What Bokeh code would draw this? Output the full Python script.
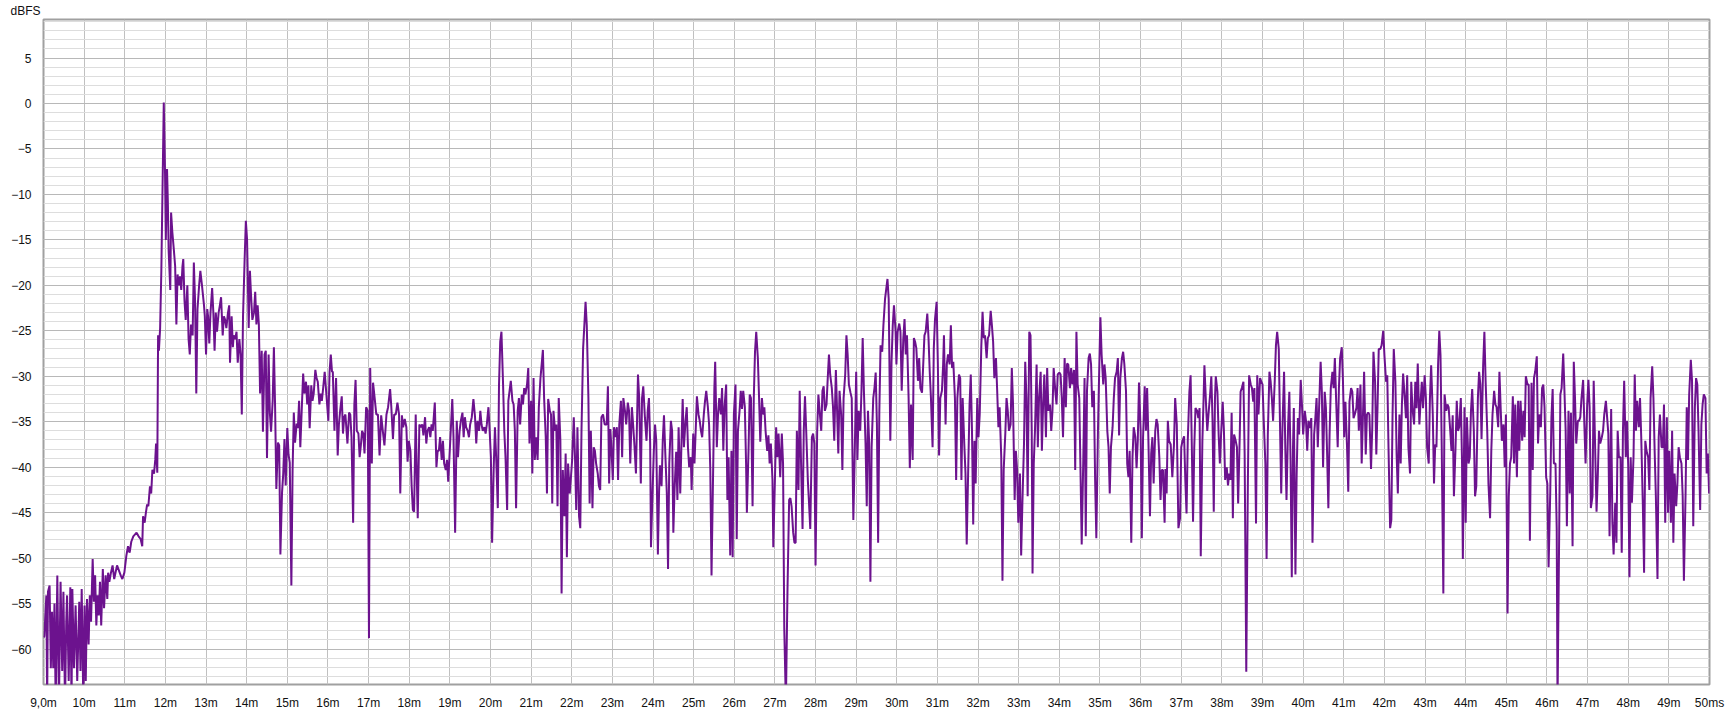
from bokeh.plotting import figure
from bokeh.models import FixedTicker, Range1d, ColumnDataSource
from bokeh.embed import file_html
from bokeh.resources import INLINE

# ---- data (time in ms, level in dBFS) ----
onset_t = [9.00, 9.02, 9.07, 9.09, 9.11, 9.15, 9.18, 9.21, 9.24, 9.27, 9.30, 9.34, 9.38, 9.42, 9.46, 9.49,
           9.53, 9.56, 9.58, 9.62, 9.66, 9.69, 9.71, 9.75, 9.79, 9.83, 9.88, 9.91, 9.94, 9.98, 10.01, 10.04,
           10.07, 10.11, 10.14, 10.17, 10.21, 10.24, 10.27, 10.30, 10.33, 10.36, 10.39, 10.42, 10.46, 10.49,
           10.53, 10.57, 10.59, 10.62, 10.66, 10.70, 10.74, 10.81, 10.90, 10.94, 10.99, 11.04, 11.08, 11.12,
           11.16, 11.21, 11.29, 11.34, 11.39, 11.43, 11.45, 11.49, 11.52, 11.55, 11.58, 11.62, 11.65, 11.68,
           11.72, 11.75, 11.77, 11.80, 11.82, 11.84, 11.87, 11.90, 11.93, 11.96]
onset_db = [-58.7, -58.6, -54.1, -66, -53.7, -53.0, -62.1, -55.9, -62.1, -55.0, -66, -51.9, -66, -52.6, -62.4, -53.7,
            -66, -57.0, -54.1, -63.5, -53.2, -66, -53.4, -62.1, -55.2, -63.5, -54.8, -62.4, -53.4, -66, -55.2, -63.5,
            -54.5, -59.5, -54.1, -57.0, -50.1, -54.8, -51.9, -57.4, -54.1, -56.3, -52.6, -57.4, -51.2, -55.5,
            -51.9, -54.5, -51.6, -52.6, -51.6, -50.8, -52.3, -50.8, -51.9, -52.3, -51.6, -49.7, -48.7, -49.4,
            -48.2, -47.6, -47.2, -47.6, -47.9, -48.7, -45.4, -46.1, -45.0, -44.1, -44.3, -42.1, -42.9, -40.3,
            -40.7, -39.2, -37.4, -40.6, -25.5, -27.2, -24.7, -18.4, -9.1, 0.1]

direct_t = [11.99, 12.01, 12.04, 12.06, 12.08, 12.12, 12.14, 12.17, 12.21, 12.24, 12.27, 12.30, 12.33, 12.36, 12.39,
            12.42, 12.44, 12.47, 12.50, 12.54, 12.57, 12.60, 12.63, 12.67, 12.70, 12.73, 12.76, 12.79, 12.83, 12.86,
            12.90, 12.95, 12.97, 13.00, 13.03, 13.05, 13.08, 13.11, 13.15, 13.18, 13.21, 13.24, 13.27, 13.31, 13.34,
            13.37, 13.41, 13.44, 13.47, 13.50, 13.54, 13.57, 13.59, 13.63, 13.66, 13.68, 13.72, 13.75, 13.78, 13.82,
            13.85, 13.88, 13.91, 13.95, 13.98, 14.01, 14.05, 14.08, 14.11, 14.14, 14.18, 14.21, 14.24, 14.27, 14.30,
            14.33, 14.37, 14.40, 14.44, 14.47, 14.50, 14.54, 14.57, 14.60, 14.64, 14.67, 14.70, 14.73, 14.77, 14.80,
            14.83, 14.87, 14.90, 14.93, 14.96, 15.00, 15.03, 15.06, 15.10, 15.13, 15.16, 15.19, 15.23, 15.26, 15.29,
            15.32, 15.36, 15.39, 15.42, 15.46, 15.49, 15.52, 15.55, 15.59, 15.62, 15.65, 15.69, 15.72, 15.75, 15.79,
            15.82, 15.85, 15.88, 15.92]
direct_db = [-7.4, -15.0, -7.2, -10.8, -16.2, -20.5, -12.0, -14.1, -16.2, -17.9, -24.3, -18.8, -20.0, -19.0, -20.5,
             -17.9, -17.1, -21.7, -23.8, -20.0, -25.9, -27.6, -24.3, -25.5, -17.5, -21.7, -31.9, -22.6, -20.0, -18.4,
             -20.0, -22.2, -23.4, -27.6, -22.6, -23.4, -26.4, -23.0, -20.3, -23.0, -27.2, -23.0, -25.1, -23.0, -22.2,
             -21.3, -25.5, -23.4, -23.8, -24.7, -23.0, -22.2, -28.5, -23.4, -26.8, -25.5, -25.9, -25.1, -28.5, -25.9,
             -27.6, -34.2, -23.4, -17.1, -12.9, -15.0, -24.7, -18.4, -21.3, -23.8, -23.0, -20.7, -24.3, -22.2, -24.3,
             -31.9, -27.2, -36.1, -27.6, -27.2, -39.0, -27.6, -34.0, -36.1, -32.7, -26.8, -33.5, -42.4, -37.3, -37.6,
             -49.6, -42.8, -40.7, -36.9, -42.0, -35.7, -38.6, -39.5, -53.0, -40.3, -34.0, -37.3, -35.2, -35.7, -32.7,
             -37.8, -33.1, -29.7, -31.9, -30.6, -33.1, -31.0, -35.7, -31.0, -32.7, -31.9, -29.3, -30.2, -30.6, -33.1,
             -31.9, -32.7, -31.4, -29.5]

early_t = [16.01, 16.04, 16.07, 16.10, 16.12, 16.16, 16.20, 16.24, 16.27, 16.30, 16.34, 16.37, 16.40, 16.43, 16.48,
           16.52, 16.55, 16.58, 16.62, 16.65, 16.68, 16.71, 16.75, 16.78, 16.81, 16.84, 16.87, 16.90, 16.94, 16.98,
           17.01, 17.04, 17.08, 17.11, 17.15, 17.19, 17.23, 17.27, 17.31, 17.35, 17.39, 17.44, 17.48, 17.53, 17.56,
           17.60, 17.63, 17.67, 17.71, 17.75, 17.78, 17.82, 17.85, 17.89, 17.93, 17.96, 17.99, 18.03, 18.06, 18.09,
           18.12, 18.16, 18.19, 18.21, 18.25, 18.29, 18.32, 18.35, 18.39, 18.42, 18.45, 18.49, 18.52, 18.55, 18.58,
           18.63, 18.67, 18.70, 18.73, 18.76, 18.80, 18.83, 18.86, 18.90, 18.93, 18.96, 18.99, 19.03, 19.06, 19.09,
           19.13, 19.17, 19.20, 19.24, 19.27, 19.31, 19.34, 19.37, 19.40, 19.44, 19.47, 19.50, 19.54, 19.58, 19.62,
           19.65, 19.68, 19.72, 19.75, 19.78, 19.81, 19.85, 19.88, 19.91, 19.95, 19.98, 20.01, 20.04, 20.08, 20.11,
           20.14, 20.18, 20.21, 20.24, 20.27, 20.31, 20.34, 20.37, 20.41, 20.44, 20.47, 20.50, 20.54, 20.57, 20.60,
           20.63, 20.67, 20.70, 20.73, 20.77, 20.80, 20.83, 20.86, 20.90, 20.93, 20.96, 21.00, 21.03, 21.06, 21.09,
           21.13, 21.16, 21.19, 21.23, 21.26, 21.29, 21.32, 21.36, 21.39, 21.42, 21.46, 21.49, 21.52, 21.55, 21.59,
           21.62, 21.65, 21.68, 21.72, 21.75, 21.78, 21.82, 21.85, 21.88, 21.91, 21.95, 21.98, 22.01, 22.05, 22.08,
           22.11, 22.14, 22.18, 22.21, 22.24, 22.28, 22.31, 22.34, 22.37, 22.41, 22.44, 22.47, 22.51, 22.54, 22.57,
           22.60, 22.64, 22.67, 22.70, 22.73, 22.77, 22.81]
early_db = [-34.9, -29.5, -27.6, -29.5, -29.5, -36.0, -30.2, -38.7, -35.3, -33.8, -32.2, -36.3, -34.5, -34.2, -37.4,
            -34.0, -34.2, -36.7, -46.1, -33.1, -30.4, -36.0, -36.3, -38.9, -37.6, -36.0, -36.3, -38.5, -33.4, -33.8,
            -58.8, -29.1, -39.6, -30.7, -32.4, -34.2, -34.2, -38.7, -34.3, -36.0, -37.6, -34.2, -33.4, -31.4, -33.4,
            -36.9, -34.2, -34.2, -32.9, -34.2, -42.9, -34.3, -35.6, -34.7, -35.6, -39.4, -37.1, -38.2, -42.1, -44.7,
            -44.9, -34.2, -41.8, -45.6, -35.3, -35.6, -35.3, -36.5, -34.5, -37.4, -36.0, -35.6, -36.7, -35.3, -36.0,
            -32.9, -40.0, -38.2, -38.2, -36.7, -39.2, -37.1, -39.6, -40.3, -39.2, -41.6, -38.9, -35.3, -32.5, -36.7,
            -47.2, -34.9, -38.9, -36.0, -34.9, -34.0, -36.7, -34.5, -35.6, -36.0, -36.7, -35.3, -34.5, -32.5, -34.5,
            -37.4, -34.9, -36.0, -33.8, -35.3, -36.0, -35.6, -36.3, -35.3, -33.4, -36.0, -38.9, -48.3, -40.0, -35.6,
            -38.9, -44.5, -30.9, -26.2, -25.1, -30.9, -36.0, -38.9, -44.7, -32.7, -31.6, -30.5, -32.7, -33.1, -36.0,
            -44.5, -33.8, -32.4, -35.3, -32.0, -33.1, -31.3, -32.0, -30.9, -29.1, -37.4, -32.7, -40.7, -30.2, -39.2,
            -36.7, -39.2, -33.4, -30.2, -28.7, -27.1, -32.4, -36.7, -42.9, -32.5, -33.8, -34.2, -44.0, -33.8, -36.0,
            -35.3, -44.3, -32.4, -37.1, -53.9, -40.3, -45.4, -38.5, -49.9, -39.6, -42.9, -41.1, -39.2, -34.5, -38.9,
            -44.7, -35.6, -45.4, -46.7, -36.0, -26.9, -24.4, -21.8, -24.4, -32.4, -44.0, -36.0, -44.5, -37.8, -38.2,
            -39.6, -40.7, -42.1, -42.5, -34.5, -34.2, -35.3]

mid_t = [22.86, 22.89, 22.92, 22.95, 22.98, 23.01, 23.04, 23.07, 23.11, 23.14, 23.17, 23.21, 23.24, 23.27, 23.31,
         23.34, 23.38, 23.41, 23.44, 23.48, 23.51, 23.54, 23.58, 23.63, 23.66, 23.70, 23.73, 23.76, 23.80, 23.84,
         23.87, 23.90, 23.93, 23.95, 23.98, 24.02, 24.05, 24.08, 24.12, 24.15, 24.17, 24.21, 24.24, 24.27, 24.30,
         24.34, 24.37, 24.40, 24.44, 24.47, 24.50, 24.53, 24.57, 24.60, 24.63, 24.67, 24.70, 24.73, 24.76, 24.80,
         24.83, 24.86, 24.89, 24.93, 24.95, 24.99, 25.02, 25.05, 25.08, 25.12, 25.15, 25.18, 25.21, 25.25, 25.28,
         25.31, 25.35, 25.38, 25.41, 25.44, 25.48, 25.51, 25.53, 25.57, 25.60, 25.63, 25.67, 25.70, 25.73, 25.76,
         25.80, 25.83, 25.86, 25.90, 25.93, 25.96, 25.99, 26.03, 26.06, 26.09, 26.13, 26.16, 26.19, 26.22, 26.26,
         26.29, 26.31, 26.35, 26.38, 26.41, 26.45, 26.48, 26.51, 26.54, 26.58, 26.61, 26.64, 26.68, 26.71, 26.74,
         26.77, 26.81, 26.84, 26.87, 26.90, 26.94, 26.96, 27.00, 27.03, 27.06, 27.09, 27.13, 27.17, 27.20, 27.23,
         27.27, 27.31, 27.35, 27.38, 27.41, 27.45, 27.48, 27.51, 27.54, 27.58, 27.61, 27.64, 27.68, 27.71, 27.74,
         27.77, 27.81, 27.84, 27.87, 27.91, 27.94, 27.97, 28.00, 28.04, 28.07, 28.10, 28.14, 28.17, 28.20, 28.23,
         28.27, 28.30, 28.33, 28.36, 28.40, 28.43, 28.46, 28.50, 28.53, 28.56, 28.59, 28.63, 28.66, 28.69, 28.73,
         28.76, 28.79, 28.82, 28.86, 28.89, 28.93, 28.96, 29.00, 29.03, 29.06, 29.10, 29.13, 29.16, 29.19, 29.23,
         29.26, 29.29, 29.32, 29.35, 29.38, 29.42, 29.45, 29.48, 29.51, 29.54, 29.57, 29.60, 29.64, 29.67, 29.71]
mid_db = [-35.3, -31.1, -41.8, -35.8, -38.2, -41.4, -35.6, -36.7, -35.6, -41.4, -35.3, -32.7, -38.9, -32.4, -33.8,
          -35.3, -32.9, -33.8, -39.6, -33.4, -35.3, -37.4, -40.7, -29.8, -32.4, -41.8, -32.4, -31.1, -34.5, -37.1,
          -33.8, -32.4, -37.4, -48.8, -44.0, -38.2, -35.3, -37.1, -49.6, -42.5, -39.8, -42.1, -37.1, -34.3, -38.2,
          -42.9, -51.2, -39.6, -34.9, -36.0, -47.2, -42.5, -38.3, -43.6, -35.6, -42.9, -37.4, -32.5, -37.8, -34.9,
          -33.4, -37.8, -40.0, -38.9, -42.5, -36.3, -39.6, -36.0, -32.2, -34.2, -34.9, -36.0, -36.7, -34.2, -32.7,
          -31.6, -33.4, -35.3, -40.3, -51.9, -40.3, -31.3, -28.4, -37.8, -34.2, -32.4, -34.2, -31.3, -38.2, -33.4,
          -30.9, -43.6, -38.9, -49.7, -38.2, -49.9, -34.2, -30.9, -47.9, -36.0, -33.8, -31.6, -33.6, -31.6, -33.4,
          -39.6, -45.0, -38.2, -32.0, -32.4, -44.3, -32.4, -27.3, -25.1, -28.0, -32.4, -37.2, -32.4, -34.2, -33.4,
          -36.0, -38.2, -36.5, -39.6, -37.4, -41.4, -48.8, -41.4, -35.6, -38.9, -36.3, -41.1, -36.3, -39.6, -57.7,
          -66, -53.4, -43.6, -43.4, -44.3, -47.2, -48.3, -48.3, -36.0, -42.5, -31.6, -38.9, -46.8, -36.0, -32.2,
          -36.0, -41.4, -44.0, -46.8, -36.7, -36.3, -37.4, -50.8, -36.0, -32.0, -33.8, -36.0, -31.6, -31.1, -33.8,
          -33.1, -30.2, -27.6, -29.8, -31.3, -33.4, -37.1, -29.3, -33.8, -38.5, -31.6, -34.2, -40.3, -32.4, -29.8,
          -25.5, -27.6, -30.9, -31.8, -32.4, -45.8, -39.6, -29.5, -39.2, -33.8, -36.0, -31.6, -25.8, -31.6, -37.4,
          -44.3, -33.8, -37.4, -52.6, -37.8, -32.4, -31.3, -29.6, -35.3, -48.3, -33.8, -26.6, -27.3, -24.4, -21.5]

late_t = [29.77, 29.80, 29.84, 29.87, 29.90, 29.93, 29.97, 29.99, 30.02, 30.06, 30.09, 30.12, 30.16, 30.19, 30.22,
          30.25, 30.29, 30.32, 30.35, 30.39, 30.42, 30.45, 30.48, 30.52, 30.55, 30.58, 30.62, 30.65, 30.68, 30.71,
          30.75, 30.78, 30.81, 30.84, 30.88, 30.91, 30.94, 30.98, 31.01, 31.04, 31.07, 31.11, 31.14, 31.16, 31.20,
          31.23, 31.26, 31.30, 31.33, 31.36, 31.39, 31.43, 31.46, 31.49, 31.53, 31.56, 31.59, 31.62, 31.66, 31.69,
          31.72, 31.76, 31.79, 31.82, 31.85, 31.88, 31.91, 31.94, 31.98, 32.01, 32.04, 32.08, 32.11, 32.14, 32.17,
          32.21, 32.24, 32.27, 32.31, 32.34, 32.37, 32.40, 32.44, 32.47, 32.50, 32.53, 32.57, 32.60, 32.63, 32.67,
          32.70, 32.73, 32.76, 32.80, 32.83, 32.86, 32.90, 32.93, 32.96, 32.99, 33.03, 33.06, 33.09, 33.13, 33.16,
          33.19, 33.22, 33.26, 33.29, 33.32, 33.34, 33.37, 33.40, 33.44, 33.47, 33.50, 33.54, 33.57, 33.60, 33.63,
          33.67, 33.70, 33.73, 33.77, 33.80, 33.83, 33.86, 33.90, 33.93, 33.96, 34.00, 34.03, 34.06, 34.09, 34.13,
          34.16, 34.19, 34.22, 34.26, 34.29, 34.32, 34.36, 34.39, 34.42, 34.45, 34.49, 34.52, 34.55, 34.59, 34.62,
          34.65, 34.68, 34.72, 34.75, 34.78, 34.81, 34.85, 34.88, 34.91, 34.95, 34.98, 35.01, 35.04, 35.08, 35.11,
          35.14, 35.18, 35.21, 35.24, 35.27, 35.31, 35.34, 35.37, 35.41, 35.44, 35.47, 35.50, 35.54, 35.57, 35.60,
          35.64, 35.67, 35.70, 35.73, 35.77, 35.80, 35.83, 35.87, 35.90, 35.93, 35.96, 36.00, 36.03, 36.06, 36.10,
          36.13, 36.16, 36.19, 36.23, 36.26, 36.29, 36.32, 36.36, 36.39, 36.42, 36.46, 36.49, 36.52, 36.55, 36.59]
late_db = [-19.3, -21.5, -37.1, -28.4, -24.4, -22.2, -25.1, -28.7, -25.1, -24.2, -25.1, -31.6, -25.8, -23.7, -27.6,
           -25.5, -32.4, -40.1, -33.1, -39.2, -25.8, -26.2, -26.9, -30.5, -28.0, -31.3, -31.8, -28.7, -25.5, -25.1,
           -23.1, -25.8, -29.5, -32.4, -37.8, -26.9, -23.7, -21.8, -28.7, -38.7, -32.4, -31.6, -28.7, -25.5, -35.3,
           -28.7, -27.6, -28.7, -24.4, -29.1, -28.4, -32.4, -41.4, -32.4, -29.8, -30.2, -41.4, -32.4, -37.4, -40.7,
           -48.5, -39.6, -33.1, -29.8, -36.0, -46.3, -37.1, -41.8, -32.4, -36.7, -34.2, -26.6, -22.9, -25.8, -25.5,
           -28.0, -25.8, -25.5, -22.8, -24.4, -26.2, -30.2, -28.0, -31.6, -35.6, -33.4, -38.9, -52.5, -40.3, -36.3,
           -32.4, -33.8, -36.0, -35.3, -29.1, -33.1, -43.6, -38.2, -40.3, -46.1, -40.7, -49.7, -44.0, -37.4, -28.4,
           -32.4, -43.2, -25.1, -25.5, -36.0, -51.7, -39.6, -36.0, -28.7, -37.8, -32.4, -29.5, -38.2, -33.1, -29.8,
           -36.7, -29.1, -33.8, -33.1, -36.0, -33.8, -29.1, -31.6, -33.1, -29.8, -29.6, -29.8, -32.4, -36.7, -28.0,
           -33.4, -28.6, -28.7, -31.3, -29.1, -30.9, -29.3, -40.3, -25.1, -30.9, -32.4, -40.3, -48.5, -38.9, -30.2,
           -47.6, -31.6, -28.0, -27.5, -28.7, -33.4, -31.6, -41.4, -47.8, -36.0, -29.5, -23.5, -27.6, -30.9, -28.7,
           -30.2, -36.0, -37.8, -42.9, -37.8, -35.6, -32.4, -30.2, -29.5, -28.0, -36.5, -30.2, -28.0, -27.3, -28.7,
           -31.6, -39.6, -41.1, -38.2, -48.3, -38.9, -35.6, -36.7, -40.1, -37.1, -30.7, -36.0, -47.8, -36.7, -31.1,
           -36.0, -31.3, -36.7, -45.4, -38.5, -36.7, -41.8, -36.0, -34.7, -35.3, -38.9, -43.6, -40.3, -40.3, -46.1]

tail_t = [36.61, 36.64, 36.67, 36.70, 36.74, 36.78, 36.82, 36.85, 36.89, 36.93, 36.97, 37.00, 37.03, 37.07, 37.10,
          37.13, 37.16, 37.20, 37.23, 37.26, 37.29, 37.32, 37.35, 37.39, 37.42, 37.45, 37.48, 37.52, 37.55, 37.57,
          37.61, 37.64, 37.67, 37.71, 37.74, 37.77, 37.80, 37.83, 37.85, 37.89, 37.92, 37.95, 37.98, 38.02, 38.05,
          38.08, 38.12, 38.15, 38.18, 38.21, 38.24, 38.27, 38.30, 38.34, 38.37, 38.40, 38.44, 38.46, 38.49, 38.53,
          38.56, 38.60, 38.64, 38.67, 38.71, 38.74, 38.77, 38.80, 38.84, 38.87, 38.90, 38.94, 38.97, 39.00, 39.03,
          39.07, 39.10, 39.13, 39.17, 39.20, 39.23, 39.26, 39.30, 39.33, 39.36, 39.40, 39.43, 39.46, 39.49, 39.53,
          39.56, 39.59, 39.63, 39.66, 39.69, 39.72, 39.75, 39.77, 39.81, 39.84, 39.87, 39.90, 39.94, 39.97, 40.00,
          40.04, 40.07, 40.10, 40.13, 40.17, 40.20, 40.23, 40.27, 40.30, 40.33, 40.36, 40.40, 40.43, 40.46, 40.49,
          40.53, 40.56, 40.59, 40.62, 40.65, 40.68, 40.72, 40.75, 40.78, 40.81, 40.85, 40.88, 40.91, 40.95, 40.98,
          41.01, 41.04, 41.08, 41.11, 41.14, 41.18, 41.21, 41.24, 41.27, 41.31, 41.34, 41.37, 41.41, 41.44, 41.47,
          41.50, 41.54, 41.57, 41.60, 41.63, 41.67, 41.70, 41.73, 41.77, 41.80, 41.83, 41.86, 41.90, 41.93, 41.97,
          42.00, 42.04, 42.07, 42.10, 42.14, 42.17, 42.20, 42.23, 42.27, 42.30, 42.33, 42.37, 42.40, 42.43, 42.46,
          42.50, 42.53, 42.56, 42.59, 42.63, 42.66, 42.69, 42.73, 42.76, 42.79, 42.82, 42.86, 42.89, 42.92, 42.95,
          42.99, 43.02, 43.05, 43.09, 43.12, 43.15, 43.19, 43.22, 43.25, 43.28, 43.32, 43.35, 43.38, 43.41, 43.45,
          43.48]
tail_db = [-40.2, -42.9, -34.9, -37.1, -37.5, -41.1, -37.6, -32.4, -35.3, -46.7, -45.6, -37.8, -37.1, -36.6, -41.4,
           -45.1, -37.1, -31.7, -29.9, -37.8, -46.0, -37.8, -33.5, -33.8, -34.6, -33.5, -49.8, -37.1, -32.4, -28.8,
           -33.1, -36.0, -34.2, -32.0, -30.0, -34.9, -44.9, -32.4, -30.0, -31.7, -36.4, -39.6, -36.4, -32.8, -36.0,
           -41.4, -40.0, -42.0, -40.7, -41.4, -34.0, -45.6, -36.4, -37.1, -37.8, -44.0, -36.4, -31.7, -31.3, -30.6,
           -38.6, -62.5, -41.4, -29.9, -30.9, -31.3, -32.8, -31.3, -46.2, -29.9, -34.2, -30.2, -30.6, -30.9, -34.9,
           -39.6, -50.1, -36.4, -29.5, -30.6, -32.4, -34.9, -30.6, -26.6, -25.1, -27.0, -35.3, -42.9, -35.7, -29.5,
           -37.8, -43.6, -35.3, -31.7, -39.3, -52.1, -37.8, -33.5, -51.8, -40.7, -34.6, -36.4, -30.4, -33.1, -36.4,
           -33.8, -34.9, -38.2, -34.9, -35.7, -34.6, -48.3, -36.4, -34.6, -32.4, -37.8, -32.4, -28.4, -31.7, -40.0,
           -31.7, -33.5, -38.6, -44.5, -36.4, -31.3, -29.5, -31.3, -28.0, -32.4, -37.8, -31.3, -28.0, -26.8, -30.6,
           -36.7, -32.8, -37.8, -42.7, -32.8, -31.3, -31.7, -34.6, -34.2, -33.5, -31.3, -36.0, -30.9, -39.6, -34.6,
           -29.5, -38.6, -34.2, -34.0, -34.2, -40.2, -35.7, -27.3, -30.6, -38.6, -33.5, -27.0, -27.0, -26.6, -25.0,
           -27.7, -30.6, -29.9, -37.8, -46.7, -45.8, -34.2, -27.0, -30.6, -38.6, -42.9, -34.2, -39.6, -33.1, -29.7,
           -32.4, -34.6, -29.9, -37.8, -40.7, -30.6, -33.5, -35.3, -30.6, -33.5, -28.6, -35.3, -32.8, -30.6, -33.5,
           -29.9, -32.4, -37.8, -39.6, -32.4, -28.8, -34.2, -41.8, -37.5, -37.8, -28.8, -25.0, -27.7, -37.8, -53.9,
           -32.0]

end_t = [43.52, 43.55, 43.58, 43.62, 43.65, 43.68, 43.71, 43.75, 43.78, 43.81, 43.84, 43.88, 43.91, 43.93, 43.97,
         44.00, 44.03, 44.07, 44.10, 44.13, 44.16, 44.20, 44.23, 44.26, 44.30, 44.33, 44.36, 44.39, 44.43, 44.46,
         44.49, 44.53, 44.56, 44.60, 44.63, 44.66, 44.70, 44.73, 44.76, 44.80, 44.83, 44.86, 44.89, 44.93, 44.96,
         44.99, 45.03, 45.06, 45.09, 45.12, 45.16, 45.19, 45.22, 45.26, 45.29, 45.32, 45.35, 45.39, 45.42, 45.45,
         45.48, 45.52, 45.55, 45.58, 45.62, 45.65, 45.68, 45.71, 45.75, 45.78, 45.81, 45.85, 45.88, 45.91, 45.94,
         45.98, 46.01, 46.04, 46.08, 46.11, 46.14, 46.17, 46.21, 46.24, 46.26, 46.30, 46.33, 46.36, 46.40, 46.43,
         46.46, 46.49, 46.53, 46.56, 46.59, 46.63, 46.66, 46.69, 46.72, 46.76, 46.79, 46.82, 46.85, 46.89, 46.92,
         46.95, 46.99, 47.02, 47.05, 47.08, 47.12, 47.15, 47.18, 47.22, 47.25, 47.28, 47.31, 47.35, 47.38, 47.41,
         47.45, 47.48, 47.51, 47.54, 47.58, 47.61, 47.64, 47.68, 47.71, 47.74, 47.77, 47.81, 47.84, 47.87, 47.90,
         47.94, 47.97, 48.00, 48.03, 48.06, 48.09, 48.13, 48.16, 48.19, 48.22, 48.26, 48.29, 48.32, 48.36, 48.39,
         48.42, 48.45, 48.49, 48.52, 48.55, 48.59, 48.62, 48.65, 48.68, 48.72, 48.75, 48.78, 48.82, 48.85, 48.88,
         48.91, 48.95, 48.98, 49.01, 49.05, 49.08, 49.11, 49.14, 49.18, 49.21, 49.24, 49.27, 49.31, 49.34, 49.37,
         49.41, 49.44, 49.47, 49.50, 49.54, 49.57, 49.60, 49.64, 49.67, 49.70, 49.73, 49.77, 49.80, 49.83, 49.86,
         49.90, 49.93, 49.96, 49.99]
end_db = [-33.8, -33.1, -33.4, -36.0, -38.2, -34.3, -43.2, -37.8, -32.7, -36.0, -35.6, -32.4, -39.6, -50.1, -33.4,
          -46.1, -34.5, -39.6, -38.9, -33.8, -31.4, -36.0, -43.2, -42.1, -32.4, -29.5, -30.9, -36.9, -28.7, -25.1,
          -30.5, -36.0, -41.8, -45.6, -38.2, -34.2, -31.6, -33.1, -33.4, -35.6, -29.5, -33.4, -37.1, -35.3, -40.0,
          -34.2, -56.1, -43.2, -39.6, -38.9, -32.2, -39.6, -33.1, -41.1, -32.7, -38.2, -32.7, -37.1, -33.8, -36.7,
          -30.0, -30.9, -30.9, -48.1, -30.7, -40.3, -30.2, -29.5, -27.8, -37.4, -34.2, -35.6, -31.3, -30.9, -33.4,
          -41.1, -41.8, -51.0, -42.9, -34.5, -31.4, -39.6, -39.6, -46.8, -66, -47.6, -32.0, -31.3, -27.5, -31.6,
          -36.0, -46.5, -33.8, -42.9, -34.0, -48.7, -28.4, -32.4, -37.4, -34.9, -34.9, -34.5, -32.4, -30.4, -35.3,
          -39.6, -33.1, -30.4, -33.4, -44.5, -43.2, -30.5, -36.7, -44.9, -41.1, -36.0, -37.4, -36.7, -36.0, -34.2,
          -32.7, -34.5, -36.3, -47.6, -33.6, -46.1, -49.6, -43.9, -48.3, -36.0, -38.9, -38.9, -49.4, -36.0, -30.5,
          -38.9, -34.9, -40.0, -52.1, -38.9, -43.9, -38.9, -29.8, -36.0, -32.7, -35.6, -32.4, -36.7, -44.3, -51.6,
          -37.1, -38.2, -38.9, -42.5, -32.4, -28.9, -32.4, -38.2, -43.2, -52.3, -36.7, -34.2, -37.8, -37.8, -33.1,
          -46.1, -34.5, -45.0, -38.2, -46.1, -36.0, -48.3, -40.7, -44.3, -41.8, -37.8, -38.9, -39.6, -43.2, -52.5,
          -43.2, -33.4, -39.2, -32.0, -28.2, -30.5, -46.5, -33.4, -30.2, -30.9, -36.0, -44.7, -35.3, -33.1, -32.0,
          -32.4, -40.7, -38.5, -42.9]

x_ticks = list(range(9, 51))
x_tick_labels = {t: f"{t}m" for t in x_ticks}
x_tick_labels[9] = "9,0m"
x_tick_labels[50] = "50ms"
y_major = list(range(-60, 10, 5))
y_minor = list(range(-63, 10))
y_title = "dBFS"

t_all = onset_t + direct_t + early_t + mid_t + late_t + tail_t + end_t
db_all = onset_db + direct_db + early_db + mid_db + late_db + tail_db + end_db
src = ColumnDataSource(data=dict(t=t_all, db=db_all))

FONT = "Liberation Sans"

p = figure(width=1730, height=712, output_backend="svg", toolbar_location=None,
           x_range=Range1d(9.0, 50.0), y_range=Range1d(-63.9, 9.24),
           min_border_left=43, min_border_right=21, min_border_top=17, min_border_bottom=22)
p.background_fill_color = "white"
p.border_fill_color = "white"
p.outline_line_color = "#a0a0a0"
p.outline_line_width = 2

p.title.text = y_title
p.title.align = "left"
p.title.offset = -33
p.title.standoff = 3
p.title.text_font = FONT
p.title.text_font_size = "12px"
p.title.text_font_style = "normal"
p.title.text_color = "#111111"

p.xaxis.ticker = FixedTicker(ticks=x_ticks)
p.xaxis.major_label_overrides = x_tick_labels
p.yaxis.ticker = FixedTicker(ticks=y_major, minor_ticks=y_minor)

for ax in (p.xaxis, p.yaxis):
    ax.axis_line_color = None
    ax.major_tick_line_color = None
    ax.minor_tick_line_color = None
    ax.major_label_text_font = FONT
    ax.major_label_text_font_size = "12px"
    ax.major_label_text_color = "#111111"
p.xaxis.major_label_standoff = 5
p.yaxis.major_label_standoff = 6

p.xgrid.grid_line_color = "#c0c0c0"
p.ygrid.grid_line_color = "#b8b8b8"
p.ygrid.minor_grid_line_color = "#dddddd"

p.line("t", "db", source=src, line_color="#6c128e", line_width=2)

open("out.html", "w").write(file_html(p, INLINE))
